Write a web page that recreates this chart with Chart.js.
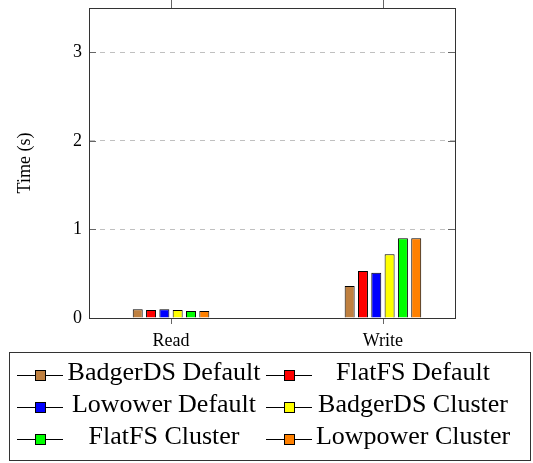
<!DOCTYPE html>
<html>
<head>
<meta charset="utf-8">
<script src="https://cdn.jsdelivr.net/npm/chart.js@4/dist/chart.umd.min.js"></script>
<style>
html,body{margin:0;padding:0;background:#fff;}
#wrap{position:relative;width:533px;height:463px;}
</style>
</head>
<body>
<div id="wrap"><canvas id="c" width="533" height="463"></canvas></div>
<script>
const categories = ['Read', 'Write'];
const seriesNames = ['BadgerDS Default', 'FlatFS Default', 'Lowower Default', 'BadgerDS Cluster', 'FlatFS Cluster', 'Lowpower Cluster'];
const badgerDefault = [0.10, 0.36];
const flatfsDefault = [0.09, 0.53];
const lowpowerDefault = [0.10, 0.51];
const badgerCluster = [0.09, 0.72];
const flatfsCluster = [0.08, 0.90];
const lowpowerCluster = [0.08, 0.90];
const yTicks = [0, 1, 2, 3];
const seriesColors = ['#bf8040', '#ff0000', '#0000ff', '#ffff00', '#00ff00', '#ff8000'];

const seriesValues = [badgerDefault, flatfsDefault, lowpowerDefault, badgerCluster, flatfsCluster, lowpowerCluster];
const SERIF = '"Liberation Serif", "DejaVu Serif", serif';

const datasets = seriesValues.map((vals, i) => ({
  label: seriesNames[i],
  data: vals.map((v, j) => ({x: j, y: v})),
  backgroundColor: seriesColors[i],
  borderColor: '#000',
  borderWidth: 1,
  borderSkipped: 'bottom',
  categoryPercentage: 0.377,
  barPercentage: 0.75
}));

const framePlugin = {
  id: 'frame',
  afterDraw(chart) {
    const ctx = chart.ctx;
    const a = chart.chartArea;
    const xs = chart.scales.x, ys = chart.scales.y;
    ctx.save();
    // tick marks
    ctx.strokeStyle = '#666';
    ctx.lineWidth = 1;
    ctx.beginPath();
    yTicks.forEach(v => {
      const py = Math.round(ys.getPixelForValue(v)) + 0.5;
      ctx.moveTo(a.left, py); ctx.lineTo(a.left + 7, py);
      ctx.moveTo(a.right, py); ctx.lineTo(a.right - 7, py);
    });
    categories.forEach((c, j) => {
      const px = Math.round(xs.getPixelForValue(j)) + 0.5;
      ctx.moveTo(px, a.bottom); ctx.lineTo(px, a.bottom + 6);
      ctx.moveTo(px, a.top); ctx.lineTo(px, a.top - 8);
    });
    ctx.stroke();
    // frame
    ctx.strokeStyle = '#333';
    ctx.strokeRect(Math.round(a.left) + 0.5, Math.round(a.top) + 0.5, Math.round(a.right - a.left), Math.round(a.bottom - a.top));
    // legend
    const L = {x: 9.5, y: 352.5, w: 521, h: 108};
    ctx.strokeStyle = '#333';
    ctx.strokeRect(L.x, L.y, L.w, L.h);
    const colText = [164, 413];
    const colLine = [[17, 63], [266, 312]];
    const rowY = [375, 407, 439];
    ctx.font = '26px ' + SERIF;
    ctx.textAlign = 'center';
    ctx.textBaseline = 'alphabetic';
    seriesNames.forEach((name, i) => {
      const col = i % 2, row = Math.floor(i / 2);
      const y = rowY[row];
      const [x0, x1] = colLine[col];
      ctx.strokeStyle = '#000';
      ctx.beginPath();
      ctx.moveTo(x0, y + 0.5); ctx.lineTo(x1, y + 0.5);
      ctx.stroke();
      const cx = Math.round((x0 + x1) / 2);
      ctx.fillStyle = seriesColors[i];
      ctx.fillRect(cx - 5, y - 5, 11, 11);
      ctx.strokeRect(cx - 5 + 0.5, y - 5 + 0.5, 10, 10);
      ctx.fillStyle = '#000';
      ctx.fillText(name, colText[col], y + 5);
    });
    ctx.restore();
  }
};

new Chart(document.getElementById('c'), {
  type: 'bar',
  data: { datasets },
  plugins: [framePlugin],
  options: {
    responsive: false,
    animation: false,
    devicePixelRatio: 1,
    layout: { padding: { left: 0, right: 78, top: 8, bottom: 115 } },
    plugins: { legend: { display: false }, tooltip: { enabled: false } },
    scales: {
      x: {
        type: 'linear',
        position: 'bottom',
        min: -0.387,
        max: 1.34,
        offset: false,
        grid: { display: true, drawOnChartArea: false, drawTicks: false, color: 'rgba(0,0,0,0)' },
        border: { display: false },
        afterBuildTicks: s => { s.ticks = categories.map((c, j) => ({value: j})); },
        afterFit: s => { s.height = 30; s.paddingLeft = 0; s.paddingRight = 0; },
        ticks: {
          autoSkip: false,
          maxRotation: 0,
          padding: 12,
          color: '#000',
          font: { family: SERIF, size: 18 },
          callback: v => categories[v] !== undefined ? categories[v] : ''
        }
      },
      y: {
        min: 0,
        max: 3.5,
        afterBuildTicks: s => { s.ticks = yTicks.map(v => ({value: v})); },
        afterFit: s => { s.width = 89; s.paddingTop = 0; s.paddingBottom = 0; },
        grid: {
          drawTicks: false,
          color: ctx => ctx.tick && ctx.tick.value === 0 ? 'rgba(0,0,0,0)' : '#c0c0c0',
          lineWidth: 1
        },
        border: { display: true, color: '#333', dash: [5, 5], dashOffset: 0 },
        ticks: {
          padding: 7,
          color: '#000',
          font: { family: SERIF, size: 18 },
          callback: v => String(v)
        },
        title: {
          display: true,
          text: 'Time (s)',
          color: '#000',
          font: { family: SERIF, size: 18 },
          padding: { top: 14, bottom: 0 }
        }
      }
    }
  }
});
</script>
</body>
</html>
